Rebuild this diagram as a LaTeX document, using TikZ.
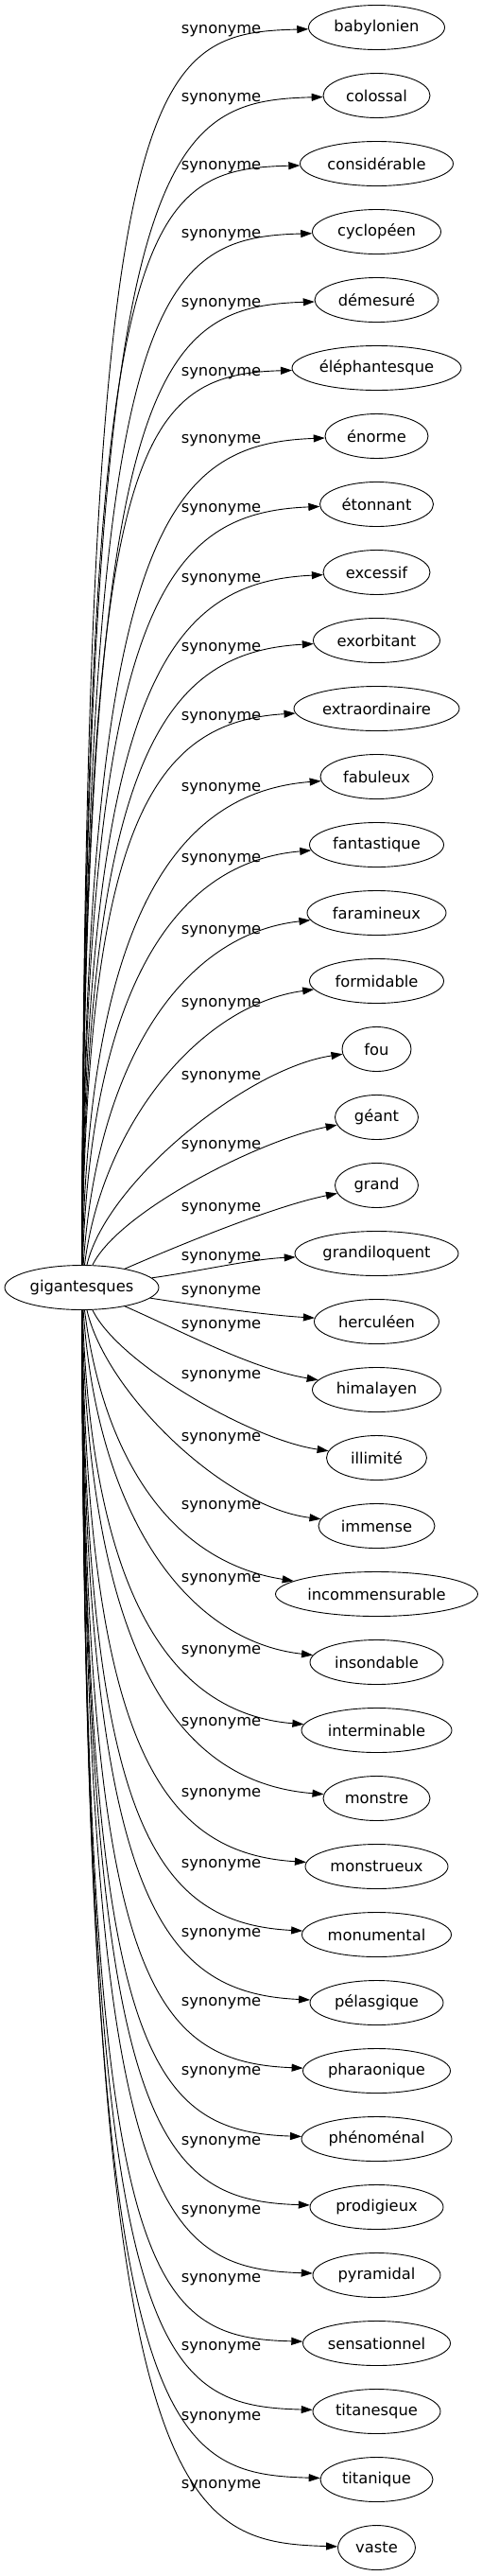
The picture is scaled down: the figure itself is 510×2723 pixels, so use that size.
\documentclass[tikz,border=0pt]{standalone}
\usepackage{fontspec}
\setmainfont{DejaVu Sans}
\usetikzlibrary{arrows.meta,shapes.geometric}
\tikzset{
  word/.style={draw, ellipse, line width=0.9pt, minimum height=47pt, inner sep=0pt,
               font=\fontsize{16.3}{19}\selectfont},
  rel/.style={inner sep=0pt, font=\fontsize{16.3}{19}\selectfont},
  synarrow/.style={line width=0.9pt, -{Triangle[length=12pt,width=8pt]}},
}

\begin{document}
\begin{tikzpicture}[x=1pt,y=-1pt]
  \useasboundingbox (0,0) rectangle (510,2723);

  % the head word
  \node[word, minimum width=163pt] (gig) at (86.5,1361) {gigantesques};

  % synonyms, one row every 72
  \node[word, minimum width=144pt] (babylonien) at (398.5,29) {babylonien};
  \node[word, minimum width=113pt] (colossal) at (398.5,101) {colossal};
  \node[word, minimum width=162pt] (considerable) at (398.5,173) {considérable};
  \node[word, minimum width=136pt] (cyclopeen) at (398.5,245) {cyclopéen};
  \node[word, minimum width=131pt] (demesure) at (398.5,317) {démesuré};
  \node[word, minimum width=179pt] (elephantesque) at (398.5,389) {éléphantesque};
  \node[word, minimum width=109pt] (enorme) at (398.5,461) {énorme};
  \node[word, minimum width=120pt] (etonnant) at (398.5,533) {étonnant};
  \node[word, minimum width=113pt] (excessif) at (398.5,605) {excessif};
  \node[word, minimum width=134pt] (exorbitant) at (398.5,677) {exorbitant};
  \node[word, minimum width=175pt] (extraordinaire) at (398.5,749) {extraordinaire};
  \node[word, minimum width=119pt] (fabuleux) at (398.5,821) {fabuleux};
  \node[word, minimum width=142pt] (fantastique) at (398.5,893) {fantastique};
  \node[word, minimum width=147pt] (faramineux) at (398.5,965) {faramineux};
  \node[word, minimum width=142pt] (formidable) at (398.5,1037) {formidable};
  \node[word, minimum width=73pt] (fou) at (398.5,1109) {fou};
  \node[word, minimum width=88pt] (geant) at (398.5,1181) {géant};
  \node[word, minimum width=88pt] (grand) at (398.5,1253) {grand};
  \node[word, minimum width=173pt] (grandiloquent) at (398.5,1325) {grandiloquent};
  \node[word, minimum width=132pt] (herculeen) at (398.5,1397) {herculéen};
  \node[word, minimum width=136pt] (himalayen) at (398.5,1469) {himalayen};
  \node[word, minimum width=106pt] (illimite) at (398.5,1541) {illimité};
  \node[word, minimum width=123pt] (immense) at (398.5,1613) {immense};
  \node[word, minimum width=214pt] (incommensurable) at (398.5,1685) {incommensurable};
  \node[word, minimum width=141pt] (insondable) at (398.5,1757) {insondable};
  \node[word, minimum width=159pt] (interminable) at (398.5,1829) {interminable};
  \node[word, minimum width=113pt] (monstre) at (398.5,1901) {monstre};
  \node[word, minimum width=151pt] (monstrueux) at (398.5,1973) {monstrueux};
  \node[word, minimum width=158pt] (monumental) at (398.5,2045) {monumental};
  \node[word, minimum width=141pt] (pelasgique) at (398.5,2117) {pélasgique};
  \node[word, minimum width=156pt] (pharaonique) at (398.5,2189) {pharaonique};
  \node[word, minimum width=159pt] (phenomenal) at (398.5,2261) {phénoménal};
  \node[word, minimum width=141pt] (prodigieux) at (398.5,2333) {prodigieux};
  \node[word, minimum width=135pt] (pyramidal) at (398.5,2405) {pyramidal};
  \node[word, minimum width=156pt] (sensationnel) at (398.5,2477) {sensationnel};
  \node[word, minimum width=135pt] (titanesque) at (398.5,2549) {titanesque};
  \node[word, minimum width=119pt] (titanique) at (398.5,2621) {titanique};
  \node[word, minimum width=82pt] (vaste) at (398.5,2693) {vaste};

  % edge labels
  \node[rel] (l1) at (234,33) {synonyme};
  \node[rel] (l2) at (234,105) {synonyme};
  \node[rel] (l3) at (234,177) {synonyme};
  \node[rel] (l4) at (234,249) {synonyme};
  \node[rel] (l5) at (234,322) {synonyme};
  \node[rel] (l6) at (234,395) {synonyme};
  \node[rel] (l7) at (234,466) {synonyme};
  \node[rel] (l8) at (234,539) {synonyme};
  \node[rel] (l9) at (234,613) {synonyme};
  \node[rel] (l10) at (234,686) {synonyme};
  \node[rel] (l11) at (234,759) {synonyme};
  \node[rel] (l12) at (234,834) {synonyme};
  \node[rel] (l13) at (234,909) {synonyme};
  \node[rel] (l14) at (234,985) {synonyme};
  \node[rel] (l15) at (234,1062) {synonyme};
  \node[rel] (l16) at (234,1139) {synonyme};
  \node[rel] (l17) at (234,1212) {synonyme};
  \node[rel] (l18) at (234,1278) {synonyme};
  \node[rel] (l19) at (234,1330) {synonyme};
  \node[rel] (l20) at (234,1366) {synonyme};
  \node[rel] (l21) at (234,1402) {synonyme};
  \node[rel] (l22) at (234,1455) {synonyme};
  \node[rel] (l23) at (234,1521) {synonyme};
  \node[rel] (l24) at (234,1593) {synonyme};
  \node[rel] (l25) at (234,1670) {synonyme};
  \node[rel] (l26) at (234,1746) {synonyme};
  \node[rel] (l27) at (234,1822) {synonyme};
  \node[rel] (l28) at (234,1897) {synonyme};
  \node[rel] (l29) at (234,1972) {synonyme};
  \node[rel] (l30) at (234,2045) {synonyme};
  \node[rel] (l31) at (234,2118) {synonyme};
  \node[rel] (l32) at (234,2191) {synonyme};
  \node[rel] (l33) at (234,2265) {synonyme};
  \node[rel] (l34) at (234,2338) {synonyme};
  \node[rel] (l35) at (234,2410) {synonyme};
  \node[rel] (l36) at (234,2482) {synonyme};
  \node[rel] (l37) at (234,2556) {synonyme};
  \node[rel] (l38) at (234,2628) {synonyme};

  % edges going up
  \draw[synarrow] (gig) .. controls (90,72) and (156,35) .. (babylonien);
  \draw[synarrow] (gig) .. controls (90,153) and (171.5,107) .. (colossal);
  \draw[synarrow] (gig) .. controls (90,233) and (147,179) .. (considerable);
  \draw[synarrow] (gig) .. controls (90,314) and (162,251) .. (cyclopeen);
  \draw[synarrow] (gig) .. controls (90,394) and (165.5,324) .. (demesure);
  \draw[synarrow] (gig) .. controls (90,475) and (142.5,396) .. (elephantesque);
  \draw[synarrow] (gig) .. controls (90,556) and (178.5,469) .. (enorme);
  \draw[synarrow] (gig) .. controls (90,636) and (175,542) .. (etonnant);
  \draw[synarrow] (gig) .. controls (90,717) and (181.5,615) .. (excessif);
  \draw[synarrow] (gig) .. controls (91,798) and (174,689) .. (exorbitant);
  \draw[synarrow] (gig) .. controls (92,878) and (158.5,763) .. (extraordinaire);
  \draw[synarrow] (gig) .. controls (94,959) and (192.5,837) .. (fabuleux);
  \draw[synarrow] (gig) .. controls (97,1040) and (187,911) .. (fantastique);
  \draw[synarrow] (gig) .. controls (103,1117) and (196.5,987) .. (faramineux);
  \draw[synarrow] (gig) .. controls (108,1189) and (212,1062) .. (formidable);
  \draw[synarrow] (gig) .. controls (112,1250) and (261.5,1129) .. (fou);
  \draw[synarrow] (gig) .. controls (125,1281) and (275,1205) .. (geant);
  \draw[synarrow] (gig) .. controls (190,1316) and (290,1275) .. (grand);
  \draw[synarrow] (gig) .. controls (210,1344) and (265,1331) .. (grandiloquent);
  % edges going down
  \draw[synarrow] (gig) .. controls (210,1380) and (280,1390) .. (herculeen);
  \draw[synarrow] (gig) .. controls (190,1406) and (266,1447) .. (himalayen);
  \draw[synarrow] (gig) .. controls (125,1441) and (266,1522) .. (illimite);
  \draw[synarrow] (gig) .. controls (112,1472) and (236.5,1593) .. (immense);
  \draw[synarrow] (gig) .. controls (108,1533) and (176,1650) .. (incommensurable);
  \draw[synarrow] (gig) .. controls (103,1605) and (199.5,1735) .. (insondable);
  \draw[synarrow] (gig) .. controls (97,1682) and (178.5,1811) .. (interminable);
  \draw[synarrow] (gig) .. controls (94,1763) and (195.5,1885) .. (monstre);
  \draw[synarrow] (gig) .. controls (92,1844) and (170.5,1959) .. (monstrueux);
  \draw[synarrow] (gig) .. controls (91,1924) and (162,2033) .. (monumental);
  \draw[synarrow] (gig) .. controls (90,2005) and (167.5,2107) .. (pelasgique);
  \draw[synarrow] (gig) .. controls (90,2086) and (157,2180) .. (pharaonique);
  \draw[synarrow] (gig) .. controls (90,2166) and (153.5,2253) .. (phenomenal);
  \draw[synarrow] (gig) .. controls (90,2247) and (161.5,2326) .. (prodigieux);
  \draw[synarrow] (gig) .. controls (90,2328) and (163.5,2398) .. (pyramidal);
  \draw[synarrow] (gig) .. controls (90,2408) and (152,2471) .. (sensationnel);
  \draw[synarrow] (gig) .. controls (90,2489) and (160.5,2543) .. (titanesque);
  \draw[synarrow] (gig) .. controls (90,2569) and (168.5,2615) .. (titanique);
  \draw[synarrow] (gig) .. controls (90,2650) and (187,2687) .. (vaste);
\end{tikzpicture}
\end{document}
